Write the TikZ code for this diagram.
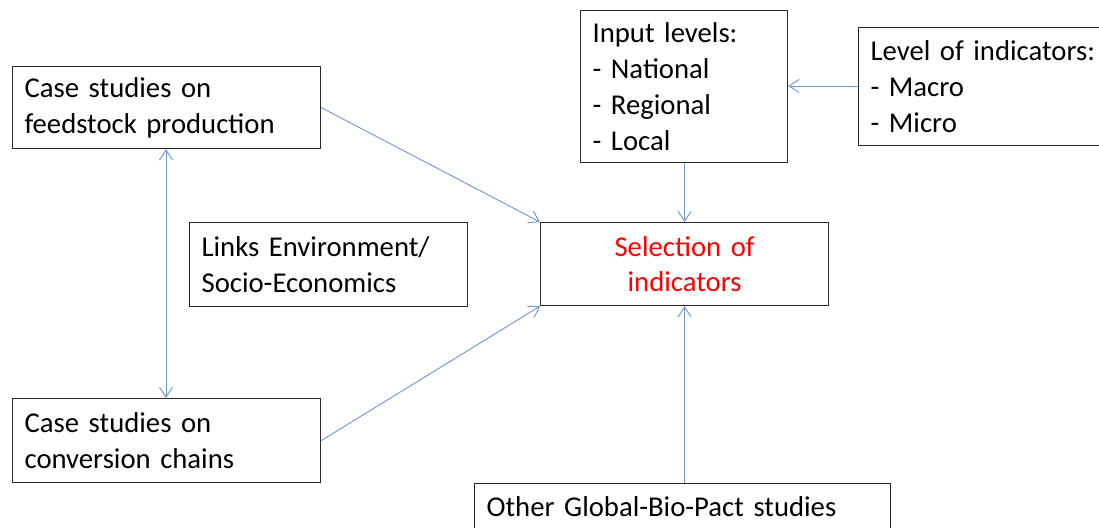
\documentclass[tikz,border=0pt]{standalone}
\usepackage{fontspec}
\setmainfont{Carlito}
\usetikzlibrary{arrows.meta, positioning}
\definecolor{linkblue}{RGB}{110, 150, 208}
\definecolor{boxgray}{RGB}{40, 40, 40}
\definecolor{selred}{RGB}{255, 0, 0}

\begin{document}
\begin{tikzpicture}[
  x=1pt, y=-1pt,
  cbox/.style={draw=boxgray, line width=1.2pt, anchor=north west, inner xsep=12pt, inner ysep=0pt, align=left, font=\fontsize{28.7}{35.8}\selectfont},
  link/.style={draw=linkblue, line width=0.9pt, -{Straight Barb[length=10pt, width=13pt]}},
  twolink/.style={link, {Straight Barb[length=10pt, width=13pt]}-{Straight Barb[length=10pt, width=13pt]}}
]
  \useasboundingbox (0,0) rectangle (1099,527);
  \clip (0,0) rectangle (1099,527);
  \fill[white] (0,0) rectangle (1099,527);

  \node[cbox, minimum width=308, minimum height=82, text width=284] (feed) at (12,66) {
    Case studies on\\feedstock production
  };
  \node[cbox, minimum width=278, minimum height=84, text width=254] (links) at (189,222) {
    Links Environment/\\Socio-Economics
  };
  \node[cbox, minimum width=308, minimum height=84, text width=284] (conv) at (12,398) {
    Case studies on\\conversion chains
  };
  \node[cbox, minimum width=288, minimum height=83, text width=264, align=center, text=selred] (sel) at (540,222) {
    Selection of\\indicators
  };
  \node[cbox, minimum width=207, minimum height=152, text width=183] (input) at (580,10) {
    Input levels:\\- National\\- Regional\\- Local
  };
  \node[cbox, minimum width=250, minimum height=118, text width=226] (level) at (858,27) {
    Level of indicators:\\- Macro\\- Micro
  };
  \node[cbox, minimum width=416, minimum height=46, text width=392] (other) at (474,483) {
    Other Global-Bio-Pact studies
  };

  \draw[link] (feed.east) -- (sel.north west);
  \draw[link] (conv.east) -- (sel.south west);
  \draw[link] (input.south -| sel.north) -- (sel.north);
  \draw[link] (level.west |- 0,86) -- (input.east |- 0,86);
  \draw[link] (other.north -| sel.south) -- (sel.south);
  \draw[twolink] (feed.south -| 166,0) -- (conv.north -| 166,0);
\end{tikzpicture}
\end{document}
